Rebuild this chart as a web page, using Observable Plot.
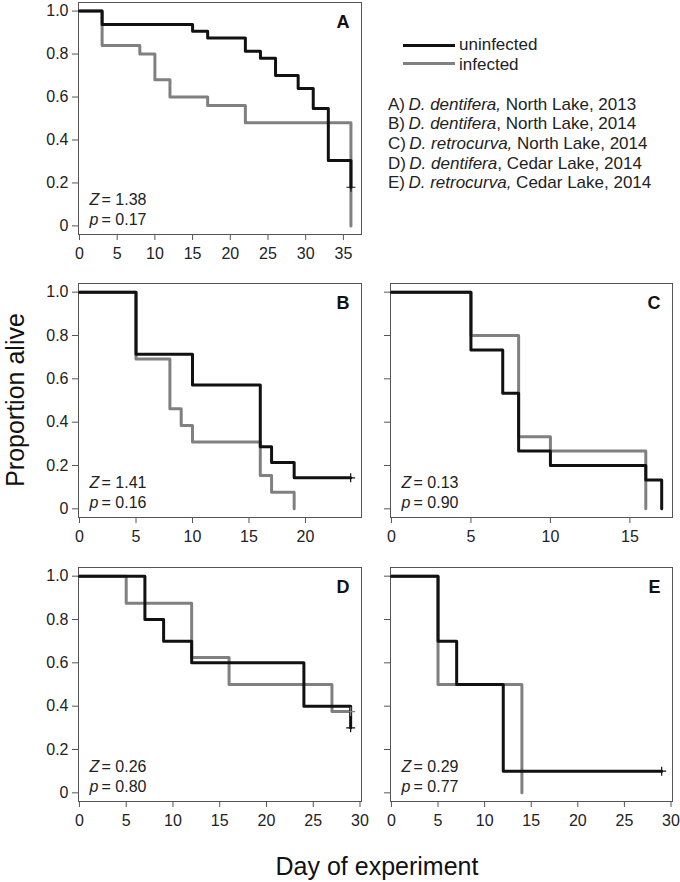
<!DOCTYPE html>
<html><head><meta charset="utf-8">
<script src="https://cdn.jsdelivr.net/npm/d3@7"></script>
<script src="https://cdn.jsdelivr.net/npm/@observablehq/plot@0.6"></script>
<style>
body{margin:0;background:#fff;}
#fig{position:relative;width:680px;height:882px;font-family:"Liberation Sans",Arial,sans-serif;color:#222;overflow:hidden;background:#fff}
.panel{position:absolute}
.leg{position:absolute;font-size:17px;line-height:19.7px;white-space:nowrap;color:#222}
.sw{position:absolute;height:3px;width:52px}
#titles{position:absolute;left:0;top:0}
</style></head><body><div id="fig"></div>
<script>
// ---------- data ----------
const panelLetters = ["A", "B", "C", "D", "E"];
const zValues = ["1.38", "1.41", "0.13", "0.26", "0.29"];
const pValues = ["0.17", "0.16", "0.90", "0.80", "0.77"];
const yTicks = [0, 0.2, 0.4, 0.6, 0.8, 1.0];

// Panel A
const A_unTime = [0, 3, 15, 17, 22, 24, 26, 29, 31, 33, 36];
const A_unSurv = [1, 0.938, 0.906, 0.875, 0.813, 0.781, 0.70, 0.64, 0.547, 0.305, 0.18];
const A_inTime = [0, 3, 8, 10, 12, 17, 22, 36];
const A_inSurv = [1, 0.84, 0.80, 0.68, 0.60, 0.56, 0.48, 0];
const A_censor = [{t: 36, s: 0.18, g: "uninfected"}];
const A_xTicks = [0, 5, 10, 15, 20, 25, 30, 35];

// Panel B
const B_unTime = [0, 5, 10, 16, 17, 19, 24];
const B_unSurv = [1, 0.714, 0.571, 0.286, 0.214, 0.143, 0.143];
const B_inTime = [0, 5, 8, 9, 10, 16, 17, 19];
const B_inSurv = [1, 0.692, 0.462, 0.385, 0.308, 0.154, 0.077, 0];
const B_censor = [{t: 24, s: 0.143, g: "uninfected"}];
const B_xTicks = [0, 5, 10, 15, 20];

// Panel C
const C_unTime = [0, 5, 7, 8, 10, 16, 17];
const C_unSurv = [1, 0.733, 0.533, 0.267, 0.2, 0.133, 0];
const C_inTime = [0, 5, 8, 10, 16];
const C_inSurv = [1, 0.8, 0.333, 0.267, 0];
const C_censor = [];
const C_xTicks = [0, 5, 10, 15];

// Panel D
const D_unTime = [0, 7, 9, 12, 24, 29];
const D_unSurv = [1, 0.8, 0.7, 0.6, 0.4, 0.3];
const D_inTime = [0, 5, 12, 16, 27, 29];
const D_inSurv = [1, 0.875, 0.625, 0.5, 0.375, 0.375];
const D_censor = [{t: 29, s: 0.3, g: "uninfected"}, {t: 29, s: 0.375, g: "infected"}];
const D_xTicks = [0, 5, 10, 15, 20, 25, 30];

// Panel E
const E_unTime = [0, 5, 7, 12, 29];
const E_unSurv = [1, 0.7, 0.5, 0.1, 0.1];
const E_inTime = [0, 5, 14];
const E_inSurv = [1, 0.5, 0];
const E_censor = [{t: 29, s: 0.1, g: "uninfected"}];
const E_xTicks = [0, 5, 10, 15, 20, 25, 30];

const legendGroups = ["uninfected", "infected"];
const legendColors = ["#111111", "#808080"];
const captionLabels = ["A)", "B)", "C)", "D)", "E)"];
const captionSpecies = ["D. dentifera,", "D. dentifera", "D. retrocurva,", "D. dentifera", "D. retrocurva,"];
const captionRest = [" North Lake, 2013", ", North Lake, 2014", " North Lake, 2014", ", Cedar Lake, 2014", " Cedar Lake, 2014"];
const xTitle = "Day of experiment";
const yTitle = "Proportion alive";

// ---------- drawing ----------
const FONT = "'Liberation Sans', Arial, sans-serif";
const color = d3.scaleOrdinal(legendGroups, legendColors);
const km = (times, surv) => times.map((t, i) => ({t, s: surv[i]}));
const yFmt = d => d === 0 ? "0" : d.toFixed(1);
const fig = document.getElementById("fig");

function panel(cfg) {
  const mL = 78, mT = 2, mR = 4, mB = 36;
  const chart = Plot.plot({
    width: mL + cfg.frameW + mR,
    height: mT + cfg.frameH + mB,
    marginLeft: mL, marginTop: mT, marginRight: mR, marginBottom: mB,
    style: {background: "transparent", fontFamily: FONT, fontSize: "16px", color: "#222", overflow: "visible"},
    x: {domain: cfg.xDomain},
    y: {domain: [-0.04, 1.04]},
    marks: [
      Plot.frame({stroke: "#555", strokeWidth: 1}),
      Plot.axisX({ticks: cfg.xTicks, tickSize: 6, tickPadding: 7, stroke: "#555", fill: "#222", label: null, tickFormat: d => String(d)}),
      Plot.axisY({ticks: yTicks, tickSize: 6, tickPadding: 4, stroke: "#555", fill: "#222", label: null,
        tickFormat: cfg.yLabels ? yFmt : () => ""}),
      Plot.line(km(cfg.inT, cfg.inS), {x: "t", y: "s", curve: "step-after", stroke: color("infected"), strokeWidth: 3}),
      Plot.line(km(cfg.unT, cfg.unS), {x: "t", y: "s", curve: "step-after", stroke: color("uninfected"), strokeWidth: 3}),
      Plot.dot(cfg.censor, {x: "t", y: "s", symbol: "plus", r: 3, stroke: d => color(d.g), strokeWidth: 1.2}),
      Plot.text([cfg.letter], {text: d => d, frameAnchor: "top-right", dx: -12, dy: 13, lineAnchor: "top", textAnchor: "end", fontWeight: "bold", fontSize: 18, fill: "#111"}),
      Plot.text(["Z"], {text: d => d, frameAnchor: "bottom-left", dx: 11, dy: -30, lineAnchor: "bottom", textAnchor: "start", fontStyle: "italic", fill: "#222"}),
      Plot.text([cfg.z], {text: d => "= " + d, frameAnchor: "bottom-left", dx: 23, dy: -30, lineAnchor: "bottom", textAnchor: "start", fill: "#222"}),
      Plot.text(["p"], {text: d => d, frameAnchor: "bottom-left", dx: 11, dy: -10, lineAnchor: "bottom", textAnchor: "start", fontStyle: "italic", fill: "#222"}),
      Plot.text([cfg.p], {text: d => "= " + d, frameAnchor: "bottom-left", dx: 23, dy: -10, lineAnchor: "bottom", textAnchor: "start", fill: "#222"})
    ]
  });
  chart.classList.add("panel");
  chart.style.left = (cfg.frameLeft - mL) + "px";
  chart.style.top = (cfg.frameTop - mT) + "px";
  fig.appendChild(chart);
}

panel({letter: panelLetters[0], z: zValues[0], p: pValues[0], frameLeft: 78, frameTop: 2, frameW: 283, frameH: 232,
  xDomain: [-0.13, 37.4], xTicks: A_xTicks, yLabels: true, unT: A_unTime, unS: A_unSurv, inT: A_inTime, inS: A_inSurv, censor: A_censor});
panel({letter: panelLetters[1], z: zValues[1], p: pValues[1], frameLeft: 78, frameTop: 283, frameW: 283, frameH: 234,
  xDomain: [-0.09, 24.96], xTicks: B_xTicks, yLabels: true, unT: B_unTime, unS: B_unSurv, inT: B_inTime, inS: B_inSurv, censor: B_censor});
panel({letter: panelLetters[2], z: zValues[2], p: pValues[2], frameLeft: 390, frameTop: 283, frameW: 282, frameH: 234,
  xDomain: [-0.06, 17.68], xTicks: C_xTicks, yLabels: false, unT: C_unTime, unS: C_unSurv, inT: C_inTime, inS: C_inSurv, censor: C_censor});
panel({letter: panelLetters[3], z: zValues[3], p: pValues[3], frameLeft: 78, frameTop: 567, frameW: 283, frameH: 234,
  xDomain: [-0.1, 30.16], xTicks: D_xTicks, yLabels: true, unT: D_unTime, unS: D_unSurv, inT: D_inTime, inS: D_inSurv, censor: D_censor});
panel({letter: panelLetters[4], z: zValues[4], p: pValues[4], frameLeft: 390, frameTop: 567, frameW: 282, frameH: 234,
  xDomain: [-0.1, 30.16], xTicks: E_xTicks, yLabels: false, unT: E_unTime, unS: E_unSurv, inT: E_inTime, inS: E_inSurv, censor: E_censor});

// legend
legendGroups.forEach((g, i) => {
  const sw = document.createElement("div");
  sw.className = "sw";
  sw.style.left = "403px"; sw.style.top = (45 + i * 18.5 - 1.5) + "px";
  sw.style.background = color(g);
  fig.appendChild(sw);
  const t = document.createElement("div");
  t.className = "leg";
  t.style.left = "459px"; t.style.top = (35.3 + i * 19.5) + "px";
  t.textContent = g;
  fig.appendChild(t);
});
captionLabels.forEach((lab, i) => {
  const t = document.createElement("div");
  t.className = "leg";
  t.style.left = "388px"; t.style.top = (94.5 + i * 19.7) + "px";
  const a = document.createElement("span"); a.textContent = lab + "\u2009";
  const b = document.createElement("i"); b.textContent = captionSpecies[i];
  const c = document.createElement("span"); c.textContent = captionRest[i];
  t.append(a, b, c);
  fig.appendChild(t);
});

// axis titles
const svg = d3.select(fig).append("svg").attr("id", "titles").attr("width", 680).attr("height", 882)
  .style("pointer-events", "none").style("font-family", FONT);
svg.append("text").attr("transform", "translate(24,400) rotate(-90)").attr("text-anchor", "middle")
  .attr("font-size", 25).attr("fill", "#111").text(yTitle);
svg.append("text").attr("x", 377).attr("y", 875).attr("text-anchor", "middle")
  .attr("font-size", 25).attr("fill", "#111").text(xTitle);
</script>
</body></html>
